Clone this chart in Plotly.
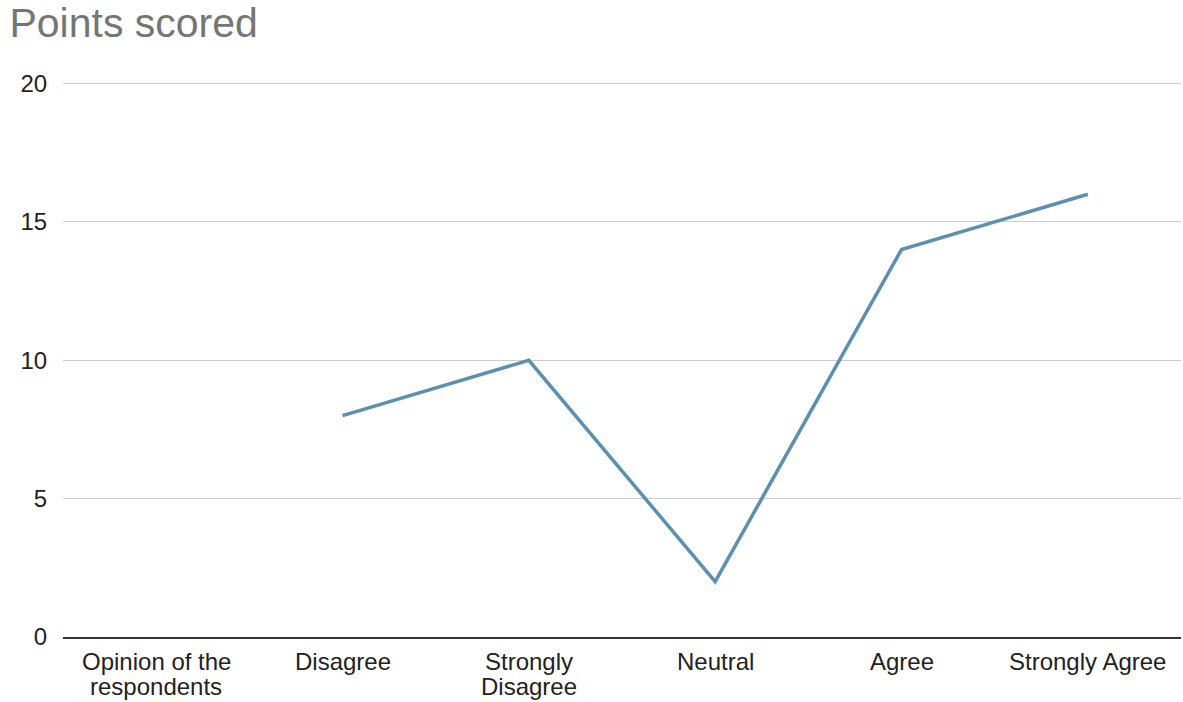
import plotly.graph_objects as go

categories = ["Opinion of the<br>respondents", "Disagree", "Strongly<br>Disagree", "Neutral", "Agree", "Strongly Agree"]
points = [None, 8, 10, 2, 14, 16]
y_ticks = [0, 5, 10, 15, 20]

fig = go.Figure()
fig.add_trace(go.Scatter(
    x=categories, y=points, mode="lines",
    line=dict(color="#5b90ae", width=3.5),
    connectgaps=False, showlegend=False, cliponaxis=False,
))

# category labels drawn line by line (tight line spacing like the reference)
for cat in categories:
    for i, line in enumerate(cat.split("<br>")):
        fig.add_annotation(
            x=cat, xref="x", y=0, yref="y", text=line, showarrow=False,
            xanchor="center", yanchor="middle", yshift=-24 - 25.5 * i,
            font=dict(size=24, color="#222222", family="Arial, Liberation Sans, sans-serif"),
        )

fig.update_layout(
    width=1183, height=702,
    margin=dict(l=63, r=2, t=77.5, b=65),
    paper_bgcolor="white", plot_bgcolor="white",
    font=dict(family="Arial, Liberation Sans, sans-serif", size=24, color="#222222"),
    title=dict(text="Points scored", x=0.008, xanchor="left", xref="container",
               y=0.988, yanchor="top", yref="container",
               font=dict(size=41, color="#757575")),
    xaxis=dict(range=[-0.5, 5.5], showgrid=False, zeroline=False, ticks="",
               showline=True, linecolor="#333333", linewidth=2,
               showticklabels=False, automargin=False),
    yaxis=dict(range=[0, 20.2], tickvals=y_ticks, showgrid=True, gridcolor="#cccccc",
               gridwidth=1, zeroline=False,
               ticks="outside", ticklen=10, tickcolor="rgba(0,0,0,0)", automargin=False,
               tickfont=dict(size=24, color="#222222")),
)

fig.write_html("out.html")
